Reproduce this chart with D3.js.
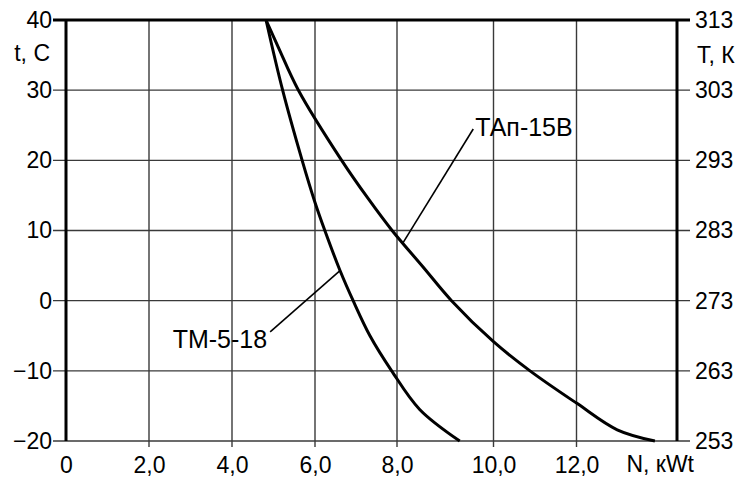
<!DOCTYPE html>
<html>
<head>
<meta charset="utf-8">
<script src="https://cdn.jsdelivr.net/npm/d3@7"></script>
<style>
    body { margin: 0; background: #fff; }
    svg { display: block; }
</style>
</head>
<body>
<div id="chart"></div>
<script>
// chart values (t in C, N in kWt)
const tempTicks = [-20, -10, 0, 10, 20, 30, 40];
const kelvinTicks = [253, 263, 273, 283, 293, 303, 313];
const powerTicks = [0, 2, 4, 6, 8, 10, 12];
const powerTickLabels = ["0", "2,0", "4,0", "6,0", "8,0", "10,0", "12,0"];

const tm518Temp = [40, 30, 20, 14, 10, 4.3, 0, -5, -10, -15.5, -20];
const tm518Power = [4.82, 5.22, 5.69, 6.0, 6.24, 6.61, 6.93, 7.34, 7.87, 8.47, 9.3];

const tap15Temp = [40, 36, 30, 20, 14.6, 10, 4.8, 0, -5.85, -10, -14.6, -18.4, -20];
const tap15Power = [4.82, 5.125, 5.6, 6.65, 7.29, 7.88, 8.54, 9.13, 10.0, 10.88, 12.0, 12.81, 13.56];

const seriesNames = ["ТМ-5-18", "ТАп-15В"];

class Chart {
    constructor() {
        const attrs = {
            container: "#chart",
            svgWidth: 748,
            svgHeight: 480,
            defaultFont: "'Liberation Sans', Arial, sans-serif",
            fontSize: 23,
            gridColor: "#3a3a3a"
        };
        this.getState = () => attrs;
        this.setState = (d) => Object.assign(attrs, d);
    }

    render() {
        this.drawSvg();
        this.drawGrid();
        this.drawAxes();
        this.drawCurves();
        return this;
    }

    drawSvg() {
        const { container, svgWidth, svgHeight, defaultFont, fontSize } = this.getState();
        const svg = d3.select(container).append("svg")
            .attr("width", svgWidth)
            .attr("height", svgHeight)
            .attr("font-family", defaultFont)
            .attr("font-size", fontSize);

        // the original x grid is not evenly spaced, so the scale is piecewise
        const x = d3.scaleLinear()
            .domain([0, 2, 4, 6, 8, 10, 12, 14])
            .range([66, 149, 232, 315, 397, 493.5, 576.5, 677]);
        const y = d3.scaleLinear().domain([-20, 40]).range([441, 20]);
        const yK = d3.scaleLinear().domain([253, 313]).range([441, 20]);

        this.setState({ svg, x, y, yK });
    }

    drawGrid() {
        const { svg, x, y, gridColor } = this.getState();

        svg.append("g").selectAll("line")
            .data(tempTicks.filter(d => d < 40))
            .join("line")
            .attr("x1", x(0) - 13)
            .attr("x2", x(14) + 13)
            .attr("y1", d => y(d))
            .attr("y2", d => y(d))
            .attr("stroke", gridColor)
            .attr("stroke-width", 1.4);

        svg.append("g").selectAll("line")
            .data(powerTicks.filter(d => d > 0))
            .join("line")
            .attr("x1", d => x(d))
            .attr("x2", d => x(d))
            .attr("y1", y(40))
            .attr("y2", y(-20) + 6)
            .attr("stroke", gridColor)
            .attr("stroke-width", 1.4);

        // heavy frame: top, left, right
        svg.append("line")
            .attr("x1", x(0) - 13).attr("x2", x(14) + 13)
            .attr("y1", y(40)).attr("y2", y(40))
            .attr("stroke", "#000").attr("stroke-width", 3);
        svg.append("line")
            .attr("x1", x(0)).attr("x2", x(0))
            .attr("y1", y(40)).attr("y2", y(-20))
            .attr("stroke", "#000").attr("stroke-width", 3);
        svg.append("line")
            .attr("x1", x(14)).attr("x2", x(14))
            .attr("y1", y(40)).attr("y2", y(-20))
            .attr("stroke", "#000").attr("stroke-width", 3);
    }

    drawAxes() {
        const { svg, x, y, yK } = this.getState();

        const left = svg.append("g")
            .attr("transform", `translate(${x(0) - 13},0)`)
            .call(d3.axisLeft(y).tickValues(tempTicks).tickSize(0).tickPadding(1));
        const right = svg.append("g")
            .attr("transform", `translate(${x(14) + 13},0)`)
            .call(d3.axisRight(yK).tickValues(kelvinTicks).tickSize(0).tickPadding(5));
        const bottom = svg.append("g")
            .attr("transform", `translate(0,${y(-20)})`)
            .call(d3.axisBottom(x).tickValues(powerTicks).tickSize(0).tickPadding(16)
                .tickFormat((d, i) => powerTickLabels[i]));

        [left, right, bottom].forEach(g => {
            g.attr("font-size", null).attr("font-family", null);
            g.select(".domain").remove();
            g.selectAll("text").attr("fill", "#000");
        });

        svg.append("text")
            .attr("x", 50).attr("y", 61)
            .attr("text-anchor", "end")
            .text("t, C");
        svg.append("text")
            .attr("x", 697).attr("y", 63)
            .text("T, К");
        svg.append("text")
            .attr("x", 694).attr("y", 472)
            .attr("text-anchor", "end")
            .text("N, кWt");
    }

    drawCurves() {
        const { svg, x, y } = this.getState();

        const series = [
            d3.zip(tm518Power, tm518Temp),
            d3.zip(tap15Power, tap15Temp)
        ];
        const line = d3.line()
            .x(d => x(d[0]))
            .y(d => y(d[1]))
            .curve(d3.curveCatmullRom.alpha(0.5));

        svg.append("g").selectAll("path")
            .data(series)
            .join("path")
            .attr("d", line)
            .attr("fill", "none")
            .attr("stroke", "#000")
            .attr("stroke-width", 3)
            .attr("stroke-linejoin", "round");

        // leader lines: [N on curve, t on curve, N at label, t at label]
        const leaders = [
            [6.61, 4.27, 4.92, -4.46],
            [8.12, 8.2, 9.58, 24.47]
        ];
        svg.append("g").selectAll("line")
            .data(leaders)
            .join("line")
            .attr("x1", d => x(d[0]))
            .attr("y1", d => y(d[1]))
            .attr("x2", d => x(d[2]))
            .attr("y2", d => y(d[3]))
            .attr("stroke", "#000")
            .attr("stroke-width", 1.6);

        svg.append("text")
            .attr("x", x(leaders[0][2]) - 3)
            .attr("y", y(leaders[0][3]) + 16)
            .attr("text-anchor", "end")
            .attr("font-size", 25)
            .text(seriesNames[0]);
        svg.append("text")
            .attr("x", x(leaders[1][2]) + 2)
            .attr("y", y(leaders[1][3]) + 7)
            .attr("font-size", 25)
            .text(seriesNames[1]);
    }
}

new Chart().render();
</script>
</body>
</html>
